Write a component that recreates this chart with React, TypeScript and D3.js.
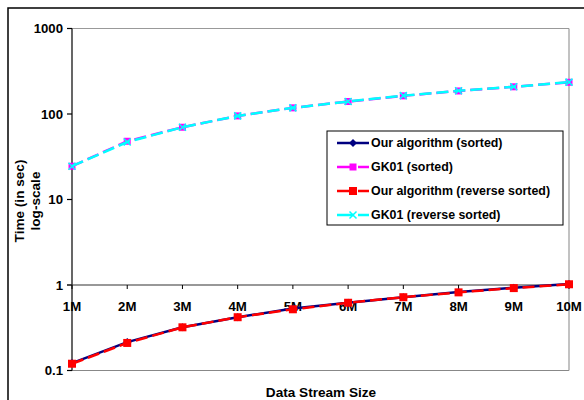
import React from "react";
import * as d3 from "d3";

const categories = ["1M", "2M", "3M", "4M", "5M", "6M", "7M", "8M", "9M", "10M"];
const ourSorted = [0.122, 0.215, 0.32, 0.42, 0.53, 0.62, 0.72, 0.83, 0.93, 1.03];
const gkSorted = [24.5, 48, 70, 95, 118, 140, 163, 186, 208, 235];
const ourReverse = [0.12, 0.21, 0.32, 0.42, 0.52, 0.62, 0.72, 0.82, 0.92, 1.02];
const gkReverse = [24.5, 47, 70, 95, 118, 140, 164, 187, 208, 236];
const yTicks = [0.1, 1, 10, 100, 1000];
const yTickLabels = ["0.1", "1", "10", "100", "1000"];
const legendLabels = [
  "Our algorithm (sorted)",
  "GK01 (sorted)",
  "Our algorithm (reverse sorted)",
  "GK01 (reverse sorted)",
];

const W = 584;
const H = 400;
const font = "Liberation Sans, Arial, sans-serif";

export default function App() {
  const x = d3.scalePoint<string>().domain(categories).range([72, 569]);
  const y = d3.scaleLog().domain([0.1, 1000]).range([370.5, 28.5]);
  const line = d3
    .line<number>()
    .x((_, i) => x(categories[i]) as number)
    .y((d) => y(d));

  const series = [
    { data: ourSorted, color: "#000080", dash: "none", marker: "diamond" },
    { data: gkSorted, color: "#ff00ff", dash: "12,5", marker: "square" },
    { data: ourReverse, color: "#ff0000", dash: "12,5", marker: "bigsquare" },
    { data: gkReverse, color: "#00ffff", dash: "12,5", marker: "x" },
  ];

  const marker = (kind: string, cx: number, cy: number, color: string, key: string) => {
    if (kind === "diamond") {
      const s = 4;
      return (
        <path key={key} d={`M${cx},${cy - s}L${cx + s},${cy}L${cx},${cy + s}L${cx - s},${cy}Z`} fill={color} />
      );
    }
    if (kind === "square") {
      return <rect key={key} x={cx - 3.5} y={cy - 3.5} width={7} height={7} fill={color} />;
    }
    if (kind === "bigsquare") {
      return <rect key={key} x={cx - 4} y={cy - 4} width={8} height={8} fill={color} />;
    }
    const s = 3.5;
    return (
      <path
        key={key}
        d={`M${cx - s},${cy - s}L${cx + s},${cy + s}M${cx - s},${cy + s}L${cx + s},${cy - s}`}
        stroke={color}
        strokeWidth={1.5}
        fill="none"
      />
    );
  };

  const legendX = 327;
  const legendY = 131;
  const legendRows = [143, 167, 191, 215];

  return (
    <svg
      width={W}
      height={H}
      style={{ position: "absolute", left: 0, top: 0, background: "#fff" }}
      fontFamily={font}
    >
      {/* outer frame */}
      <rect x={8} y={8} width={W} height={H} fill="none" stroke="#000" strokeWidth={1.5} />

      {/* plot area borders */}
      <line x1={72} x2={569} y1={y(1000)} y2={y(1000)} stroke="#999" strokeWidth={1.2} />
      <line x1={72} x2={569} y1={y(0.1)} y2={y(0.1)} stroke="#888" strokeWidth={1.2} />
      <line x1={569} x2={569} y1={y(1000)} y2={y(0.1)} stroke="#999" strokeWidth={1.2} />

      {/* y axis */}
      <line x1={72} x2={72} y1={y(1000)} y2={y(0.1)} stroke="#000" strokeWidth={1.2} />
      {yTicks.map((t, i) => (
        <g key={t}>
          <line x1={67} x2={72} y1={y(t)} y2={y(t)} stroke="#000" strokeWidth={1.2} />
          <text
            x={63}
            y={y(t)}
            dy="0.35em"
            textAnchor="end"
            fontSize={13.2}
            fontWeight="bold"
          >
            {yTickLabels[i]}
          </text>
        </g>
      ))}

      {/* x axis at y=1 */}
      <line x1={67} x2={569} y1={y(1)} y2={y(1)} stroke="#333" strokeWidth={1.2} />
      {categories.map((c) => (
        <g key={c}>
          <line x1={x(c)} x2={x(c)} y1={y(1)} y2={y(1) + 4} stroke="#000" strokeWidth={1} />
          <text
            x={x(c)}
            y={y(1) + 21}
            dy="0.35em"
            textAnchor="middle"
            fontSize={13.2}
            fontWeight="bold"
          >
            {c}
          </text>
        </g>
      ))}

      {/* series */}
      {series.map((s, si) => (
        <g key={si}>
          <path
            d={line(s.data) || ""}
            fill="none"
            stroke={s.color}
            strokeWidth={2.5}
            strokeDasharray={s.dash}
          />
          {s.data.map((d, i) =>
            marker(s.marker, x(categories[i]) as number, y(d), s.color, `${si}-${i}`)
          )}
        </g>
      ))}

      {/* legend */}
      <rect
        x={legendX}
        y={legendY}
        width={236}
        height={94}
        fill="#fff"
        stroke="#000"
        strokeWidth={1}
      />
      {series.map((s, i) => {
        const ly = legendRows[i];
        return (
          <g key={i}>
            <line
              x1={337}
              x2={369}
              y1={ly}
              y2={ly}
              stroke={s.color}
              strokeWidth={2.5}
              strokeDasharray={s.dash === "none" ? "none" : "17,4"}
            />
            {marker(s.marker, 353, ly, s.color, `leg-${i}`)}
            <text x={371} y={ly} dy="0.35em" fontSize={12.4} fontWeight="bold">
              {legendLabels[i]}
            </text>
          </g>
        );
      })}

      {/* axis titles */}
      <text x={321} y={392} dy="0.35em" textAnchor="middle" fontSize={13.6} fontWeight="bold">
        Data Stream Size
      </text>
      <text
        transform={`translate(19,201) rotate(-90)`}
        textAnchor="middle"
        dy="0.35em"
        fontSize={13.6}
        fontWeight="bold"
      >
        Time (in sec)
      </text>
      <text
        transform={`translate(35,201) rotate(-90)`}
        textAnchor="middle"
        dy="0.35em"
        fontSize={13.6}
        fontWeight="bold"
      >
        log-scale
      </text>
    </svg>
  );
}
